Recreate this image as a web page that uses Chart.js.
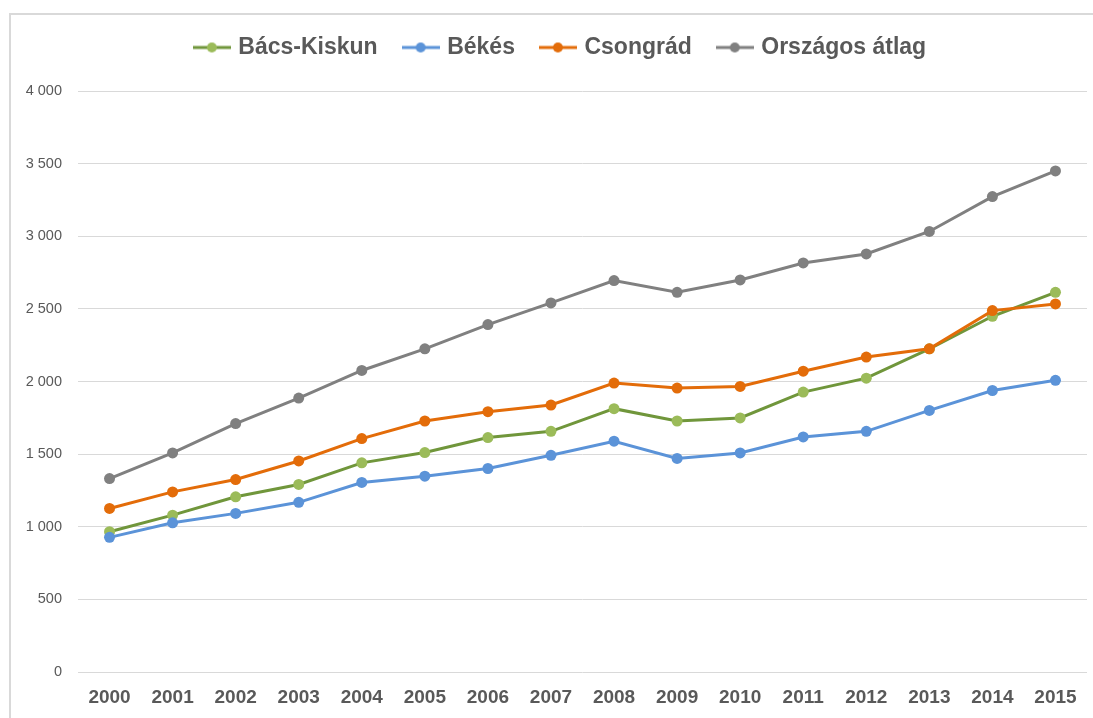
<!DOCTYPE html>
<html>
<head>
<meta charset="utf-8">
<script src="https://cdn.jsdelivr.net/npm/chart.js@4.4.1/dist/chart.umd.min.js"></script>
<style>
  html, body { margin: 0; padding: 0; background: #fff; }
  #wrap { position: relative; width: 1093px; height: 718px; }
  #frame { position: absolute; left: 9px; top: 13px; right: 0; bottom: 0; border-left: 2px solid #d9d9d9; border-top: 2px solid #d9d9d9; pointer-events: none; }
  canvas { position: absolute; left: 0; top: 0; }
</style>
</head>
<body>
<div id="wrap">
  <canvas id="c" width="1093" height="718"></canvas>
  <div id="frame"></div>
</div>
<script>
const years = ['2000','2001','2002','2003','2004','2005','2006','2007','2008','2009','2010','2011','2012','2013','2014','2015'];
const bacsKiskun = [966, 1080, 1206, 1291, 1440, 1511, 1614, 1657, 1813, 1728, 1749, 1927, 2023, 2225, 2449, 2614];
const bekes      = [927, 1027, 1092, 1168, 1305, 1348, 1401, 1492, 1589, 1470, 1508, 1618, 1657, 1801, 1938, 2008];
const csongrad   = [1126, 1240, 1325, 1453, 1607, 1728, 1792, 1838, 1989, 1955, 1966, 2071, 2168, 2225, 2488, 2534];
const orszagos   = [1332, 1508, 1710, 1886, 2076, 2225, 2392, 2541, 2695, 2614, 2699, 2816, 2878, 3033, 3273, 3450];
const yTicks = [0, 500, 1000, 1500, 2000, 2500, 3000, 3500, 4000];

const series = [
  { label: 'Bács-Kiskun', data: bacsKiskun, line: '#70963B', marker: '#9BBB59' },
  { label: 'Békés', data: bekes, line: '#5B93D8', marker: '#5B93D8' },
  { label: 'Csongrád', data: csongrad, line: '#E36C09', marker: '#E36C09' },
  { label: 'Országos átlag', data: orszagos, line: '#808080', marker: '#808080' }
];

function makeIcon(lineColor, markerColor) {
  const c = document.createElement('canvas');
  c.width = 38; c.height = 12;
  const g = c.getContext('2d');
  g.strokeStyle = lineColor; g.lineWidth = 3;
  g.beginPath(); g.moveTo(0, 6); g.lineTo(38, 6); g.stroke();
  g.fillStyle = markerColor;
  g.beginPath(); g.arc(19, 6, 5, 0, Math.PI * 2); g.fill();
  return c;
}
const icons = series.map(s => makeIcon(s.line, s.marker));

const fmt = v => String(v).replace(/\B(?=(\d{3})+(?!\d))/g, ' ');

const legendGap = {
  id: 'legendGap',
  beforeInit(chart) {
    const orig = chart.legend.fit;
    chart.legend.fit = function () {
      orig.call(this);
      this.height += 22;
    };
  },
  afterLayout(chart) {
    chart.legend.left += 36;
  }
};

new Chart(document.getElementById('c'), {
  type: 'line',
  plugins: [legendGap],
  data: {
    labels: years,
    datasets: series.map((s, i) => ({
      label: s.label,
      data: s.data,
      borderColor: s.line,
      backgroundColor: s.marker,
      pointBackgroundColor: s.marker,
      pointBorderColor: s.marker,
      pointRadius: 5.5,
      pointBorderWidth: 0,
      borderWidth: 3,
      tension: 0,
      order: series.length - i
    }))
  },
  options: {
    responsive: false,
    animation: false,
    layout: { padding: { left: 0, right: 6, top: 8, bottom: 0 } },
    plugins: {
      tooltip: { enabled: false },
      legend: {
        position: 'top',
        labels: {
          usePointStyle: true,
          pointStyleWidth: 30,
          padding: 28,
          color: '#595959',
          font: { family: 'Liberation Sans, Arial, sans-serif', size: 23, weight: 'bold' },
          generateLabels: (chart) => chart.data.datasets.map((ds, i) => ({
            text: ds.label,
            fillStyle: ds.backgroundColor,
            strokeStyle: ds.borderColor,
            lineWidth: 0,
            pointStyle: icons[i],
            datasetIndex: i,
            hidden: false,
            fontColor: '#595959'
          }))
        }
      }
    },
    scales: {
      x: {
        offset: true,
        grid: { display: false, drawTicks: false },
        border: { display: false },
        ticks: {
          color: '#595959',
          padding: 14,
          maxRotation: 0,
          autoSkip: false,
          font: { family: 'Liberation Sans, Arial, sans-serif', size: 19, weight: 'bold' }
        },
        afterFit: (s) => { s.height = 46; }
      },
      y: {
        min: 0,
        max: 4000,
        afterBuildTicks: (s) => { s.ticks = yTicks.map(v => ({ value: v })); },
        grid: { color: '#d9d9d9', lineWidth: 1, drawTicks: false },
        border: { display: false },
        ticks: {
          color: '#595959',
          padding: 16,
          font: { family: 'Liberation Sans, Arial, sans-serif', size: 14.5 },
          callback: (v) => fmt(v)
        },
        afterFit: (s) => { s.width = 78; }
      }
    }
  }
});
</script>
</body>
</html>
